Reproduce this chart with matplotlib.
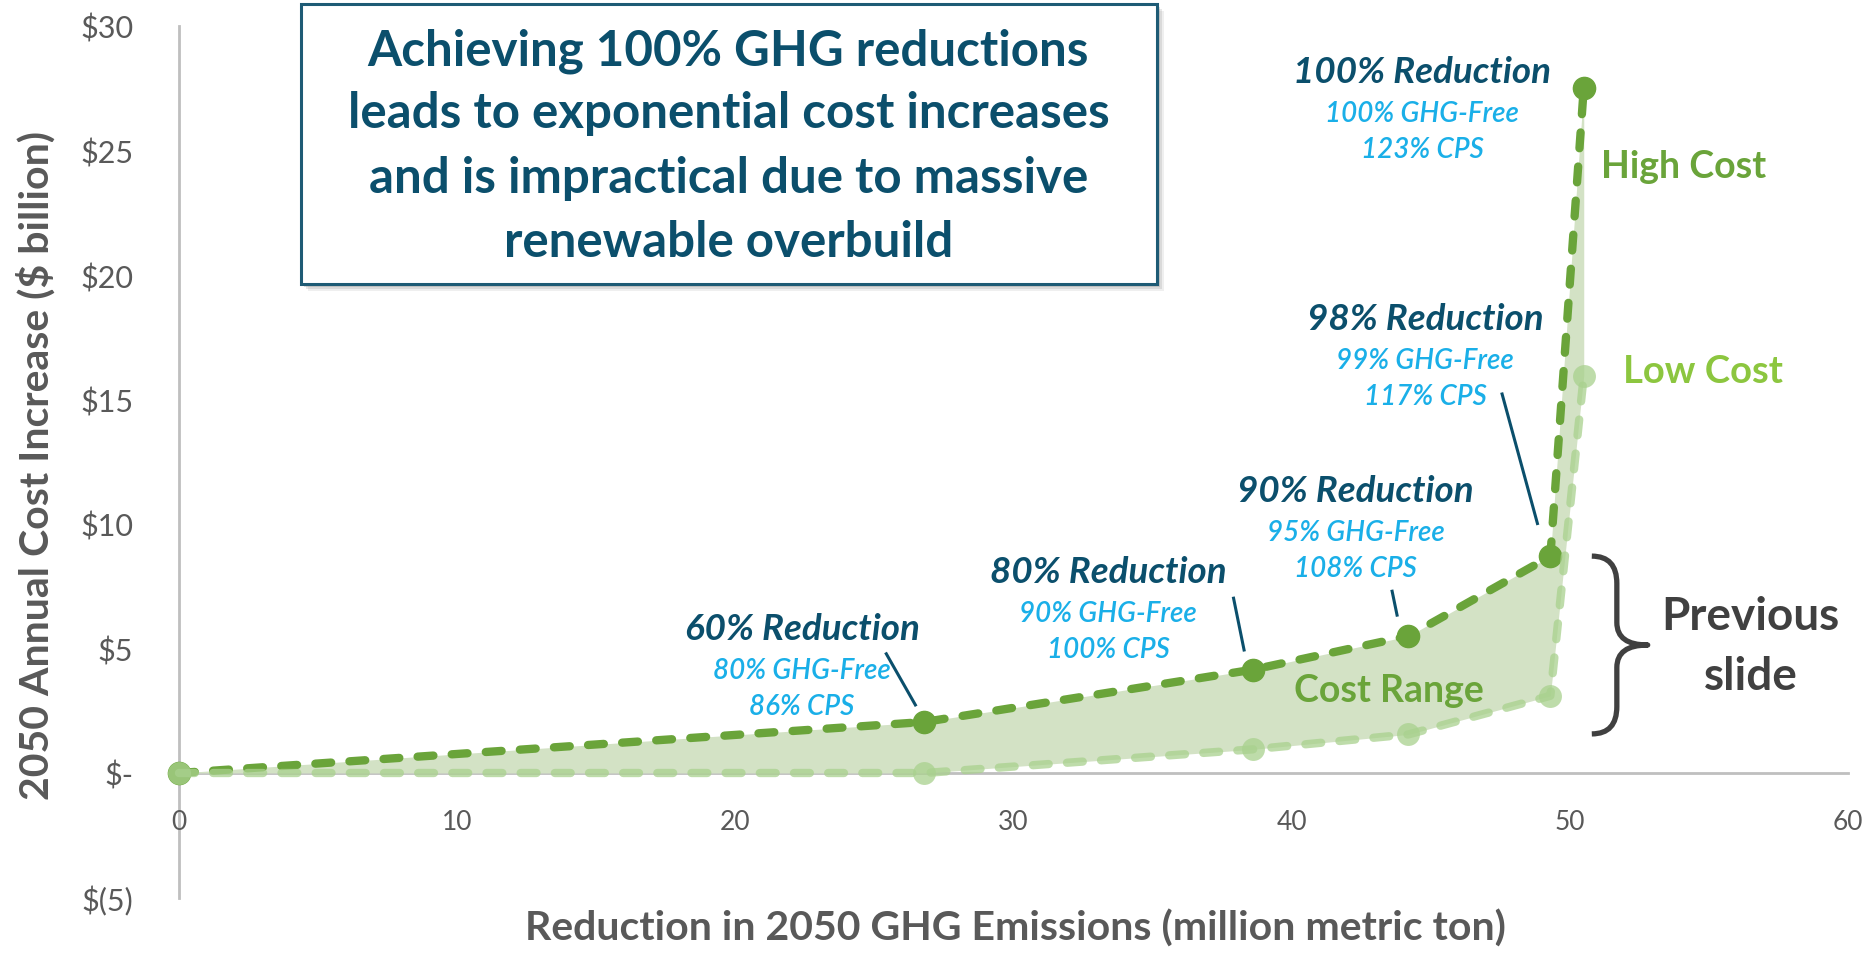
import matplotlib
matplotlib.use("Agg")
import matplotlib.pyplot as plt
from matplotlib.patches import Rectangle, PathPatch
from matplotlib.path import Path

# ---------------- data ----------------
reduction_mmt = [0, 26.8, 38.6, 44.2, 49.3, 50.5]
high_cost = [0, 2.05, 4.15, 5.5, 8.7, 27.5]
low_cost = [0, 0.0, 0.95, 1.55, 3.1, 15.95]

x_ticks = [0, 10, 20, 30, 40, 50, 60]
y_ticks = [-5, 0, 5, 10, 15, 20, 25, 30]
y_tick_labels = ['$(5)', '$-', '$5', '$10', '$15', '$20', '$25', '$30']

case_titles = ['60% Reduction', '80% Reduction', '90% Reduction', '98% Reduction', '100% Reduction']
case_ghg_free = ['80% GHG-Free', '90% GHG-Free', '95% GHG-Free', '99% GHG-Free', '100% GHG-Free']
case_cps = ['86% CPS', '100% CPS', '108% CPS', '117% CPS', '123% CPS']

title_lines = ['Achieving 100% GHG reductions',
               'leads to exponential cost increases',
               'and is impractical due to massive',
               'renewable overbuild']

# ---------------- layout (annotation positions) ----------------
label_x = [22.4, 33.4, 42.3, 44.8, 44.7]
label_base_y = [5.38, 7.67, 10.92, 17.83, 27.75]
leaders = [(25.4, 4.84, 26.5, 2.68), (37.9, 7.08, 38.3, 4.88),
           (43.6, 7.36, 43.8, 6.28), (47.55, 15.28, 48.85, 9.96)]

FONT = 'Lato'
TEAL = '#0B4F6C'
BLUE = '#1AAFE8'
HIGH = '#6AA43A'
LOW = '#A9D18E'
FILL = '#D3E2C5'
GRAY = '#595959'

plt.rcParams['font.family'] = [FONT, 'DejaVu Sans']

W, H = 1868, 954
fig = plt.figure(figsize=(W / 100, H / 100), dpi=100)
fig.patch.set_facecolor('white')
ax = fig.add_axes([179 / W, (H - 898.5) / H, (1848 - 179) / W, (898.5 - 27) / H])
ax.set_xlim(0, 60)
ax.set_ylim(-5, 30)

# fill and lines
ax.fill_between(reduction_mmt, low_cost, high_cost, color=FILL, lw=0, zorder=1)
ax.plot(reduction_mmt, high_cost, color=HIGH, lw=6, dashes=(1.9, 2.2),
        dash_capstyle='round', marker='o', ms=16, mec=HIGH, mfc=HIGH,
        zorder=3, clip_on=False)
ax.plot(reduction_mmt, low_cost, color=LOW, lw=6, dashes=(1.9, 2.2), alpha=0.75,
        dash_capstyle='round', marker='o', ms=16.5, mec='none', mfc=LOW,
        zorder=4, clip_on=False)

# axes styling
for s in ['top', 'right']:
    ax.spines[s].set_visible(False)
ax.spines['bottom'].set_position(('data', 0))
ax.spines['left'].set_position(('data', 0))
for s in ['bottom', 'left']:
    ax.spines[s].set_color('#BFBFBF')
    ax.spines[s].set_linewidth(2)
    ax.spines[s].set_zorder(0.5)
ax.set_xticks(x_ticks)
ax.set_xticklabels([str(v) for v in x_ticks])
ax.set_yticks(y_ticks)
ax.set_yticklabels(y_tick_labels)
ax.tick_params(axis='x', length=0, pad=26, labelsize=19, labelcolor=GRAY)
ax.tick_params(axis='y', length=0, pad=33, labelsize=22, labelcolor=GRAY)
ax.patch.set_alpha(0)

# case labels
for i in range(len(case_titles)):
    ax.text(label_x[i], label_base_y[i], case_titles[i], ha='center', va='baseline',
            fontsize=26.5, fontweight='bold', style='italic', color=TEAL, zorder=6)
    ax.text(label_x[i], label_base_y[i] - 1.55, case_ghg_free[i], ha='center', va='baseline',
            fontsize=20, fontweight='semibold', style='italic', color=BLUE, zorder=6)
    ax.text(label_x[i], label_base_y[i] - 3.0, case_cps[i], ha='center', va='baseline',
            fontsize=20, fontweight='semibold', style='italic', color=BLUE, zorder=6)
for (x0, y0, x1, y1) in leaders:
    ax.plot([x0, x1], [y0, y1], color=TEAL, lw=2.2, zorder=6, solid_capstyle='butt')

ax.text(54.1, 23.94, 'High Cost', ha='center', va='baseline', fontsize=27,
        fontweight='bold', color=HIGH)
ax.text(54.78, 15.7, 'Low Cost', ha='center', va='baseline', fontsize=27.5,
        fontweight='bold', color='#8CC63F')
ax.text(43.5, 2.89, 'Cost Range', ha='center', va='baseline', fontsize=27,
        fontweight='bold', color=HIGH, zorder=6)
ax.text(56.5, 5.78, 'Previous', ha='center', va='baseline', fontsize=33,
        fontweight='bold', color='#404040')
ax.text(56.5, 3.37, 'slide', ha='center', va='baseline', fontsize=33,
        fontweight='bold', color='#404040')

# curly bracket
x0, xm, x1 = 50.79, 51.69, 52.8
yt, ym, yb = 8.71, 5.14, 1.57
r1, r2 = 1.1, 0.9
verts = [(x0, yt), (xm, yt), (xm, yt - r1), (xm, ym + r2), (xm, ym), (x1, ym),
         (xm, ym), (xm, ym - r2), (xm, yb + r1), (xm, yb), (x0, yb)]
codes = [Path.MOVETO, Path.CURVE3, Path.CURVE3, Path.LINETO, Path.CURVE3, Path.CURVE3,
         Path.CURVE3, Path.CURVE3, Path.LINETO, Path.CURVE3, Path.CURVE3]
ax.add_patch(PathPatch(Path(verts, codes), fill=False, ec='#404040', lw=3.8,
                       capstyle='butt', joinstyle='round', clip_on=False))

# title box (figure coords)
bl, br, bt, bb = 301 / W, 1157 / W, 1 - 5 / H, 1 - 285 / H
for k, a in [(7, 0.12), (5, 0.18), (3, 0.25)]:
    fig.patches.append(Rectangle((bl + k / W, bb - k / H), br - bl, bt - bb,
                                 transform=fig.transFigure, fc='#7f7f7f', ec='none',
                                 alpha=a, zorder=8))
fig.patches.append(Rectangle((bl, bb), br - bl, bt - bb, transform=fig.transFigure,
                             fc='white', ec='#1E5B75', lw=2.2, zorder=9))
baselines = [65, 128, 193, 257]
for line, b in zip(title_lines, baselines):
    fig.text(728.5 / W, 1 - b / H, line, ha='center', va='baseline', fontsize=35.5,
             fontweight='bold', color=TEAL, zorder=10)

# axis titles
fig.text(49 / W, 1 - 465 / H, '2050 Annual Cost Increase ($ billion)', rotation=90,
         rotation_mode='anchor', ha='center', va='baseline', fontsize=29.5,
         fontweight='bold', color=GRAY)
fig.text(1015 / W, 1 - 941 / H, 'Reduction in 2050 GHG Emissions (million metric ton)',
         ha='center', va='baseline', fontsize=29.5, fontweight='bold', color=GRAY)

fig.savefig('out.png', dpi=100, facecolor='white')
